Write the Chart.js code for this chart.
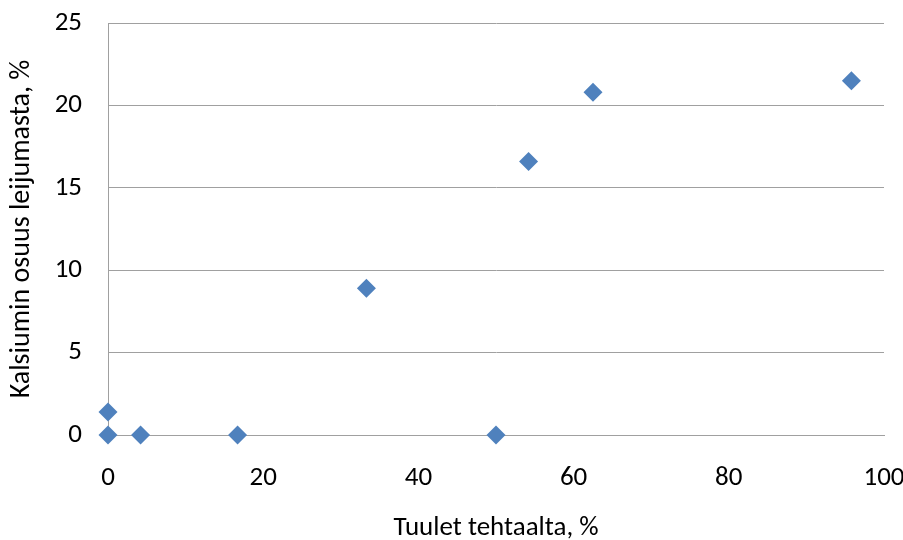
<!DOCTYPE html>
<html lang="fi">
<head>
    <meta charset="UTF-8">
    <title>Kalsiumin osuus leijumasta</title>
    <script src="https://cdn.jsdelivr.net/npm/chart.js"></script>
    <style>
        html, body { margin: 0; padding: 0; background: #fff; }
        #wrap { width: 903px; height: 540px; }
    </style>
</head>
<body>
    <div id="wrap"><canvas id="chart"></canvas></div>
    <script>
        // values
        const windShare = [0, 0, 4.2, 16.7, 33.3, 50, 54.2, 62.5, 95.8];
        const calciumShare = [1.4, 0, 0, 0, 8.9, 0, 16.6, 20.8, 21.5];
        const xTitle = 'Tuulet tehtaalta, %';
        const yTitle = 'Kalsiumin osuus leijumasta, %';

        const points = windShare.map((x, i) => ({ x: x, y: calciumShare[i] }));
        const font = { family: 'Carlito, "Open Sans", "Liberation Sans", sans-serif', size: 27 };
        const titleFont = { family: font.family, size: 28 };

        new Chart(document.getElementById('chart'), {
            type: 'scatter',
            data: {
                datasets: [{
                    data: points,
                    clip: false,
                    pointStyle: 'rectRot',
                    pointRadius: 9.5,
                    pointHoverRadius: 9.5,
                    backgroundColor: '#4F81BD',
                    borderColor: '#4F81BD',
                    borderWidth: 0
                }]
            },
            options: {
                responsive: true,
                maintainAspectRatio: false,
                animation: false,
                layout: { autoPadding: false, padding: { top: 23, right: 19, left: 0, bottom: 0 } },
                plugins: { legend: { display: false }, tooltip: { enabled: false } },
                scales: {
                    x: {
                        type: 'linear',
                        min: 0, max: 100,
                        ticks: { stepSize: 20, color: '#000', font: font, padding: 27 },
                        grid: { display: false, drawTicks: false },
                        border: { display: true, color: '#a0a0a0', width: 1 },
                        title: { display: true, text: xTitle, color: '#000', font: font, padding: { top: 0, bottom: -4 } },
                        afterFit: s => { s.height = 105; s.paddingLeft = 0; s.paddingRight = 0; }
                    },
                    y: {
                        min: 0, max: 25,
                        ticks: { stepSize: 5, color: '#000', font: font, padding: 26 },
                        grid: { color: '#a0a0a0', drawTicks: false },
                        border: { display: true, color: '#a0a0a0', width: 1 },
                        title: { display: true, text: yTitle, color: '#000', font: titleFont, padding: { top: 5, bottom: 0 } },
                        afterFit: s => { s.width = 108; s.paddingTop = 0; s.paddingBottom = 0; }
                    }
                }
            }
        });
    </script>
</body>
</html>
